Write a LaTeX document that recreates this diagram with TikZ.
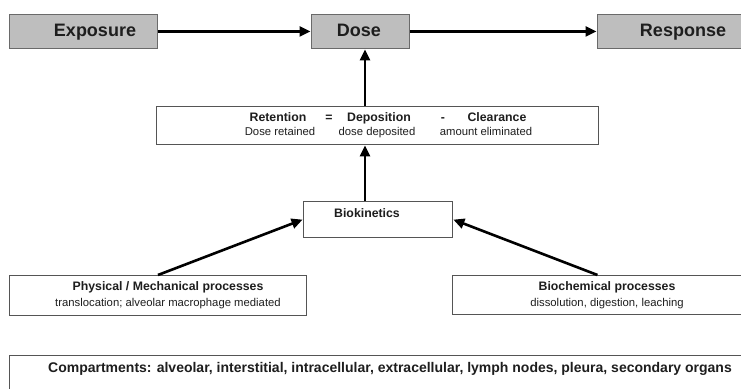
\documentclass[tikz,border=0pt]{standalone}
\usepackage{fontspec}
\setmainfont{Liberation Sans}
\usetikzlibrary{arrows.meta}
\definecolor{boxgray}{HTML}{BEBEBE}
\definecolor{edgegray}{HTML}{6A6A6A}
\definecolor{ink}{HTML}{1E1E1E}
\tikzset{
  graybox/.style={draw=edgegray, line width=0.9pt, fill=boxgray, inner sep=0pt, anchor=north west},
  whitebox/.style={draw=edgegray!80!black, line width=0.9pt, fill=white, inner sep=0pt, anchor=north west},
  lbl/.style={inner sep=0pt, anchor=base, text=ink, font=\bfseries\fontsize{18}{20}\selectfont},
  tl/.style={inner sep=0pt, anchor=base, text=ink, font=\bfseries\fontsize{12.3}{14}\selectfont},
  sl/.style={inner sep=0pt, anchor=base, text=ink, font=\fontsize{11.3}{13}\selectfont},
  arr/.style={line width=2.6pt, draw=black, -{Triangle[length=11pt,width=10pt]}, shorten >=0.5pt},
}
\begin{document}
\begin{tikzpicture}[x=1pt,y=-1pt]
\useasboundingbox (0,0) rectangle (741,388);
% top row
\node[graybox, minimum width=148pt, minimum height=34pt] (expo) at (9,14) {};
\node[graybox, minimum width=98pt, minimum height=34pt] (dose) at (311,14) {};
\node[graybox, minimum width=150pt, minimum height=34pt] (resp) at (597,14) {};
\node[lbl] (expot) at (95,36.5) {Exposure};
\node[lbl] (doset) at (359,36.5) {Dose};
\node[lbl] (respt) at (683,36.5) {Response};
% retention
\node[whitebox, minimum width=442pt, minimum height=38pt] (ret) at (156,106) {};
\node[tl] (r1) at (278,121.4) {Retention};
\node[tl] (r2) at (329,121.4) {=};
\node[tl] (r3) at (379,121.4) {Deposition};
\node[tl] (r4) at (443,121.4) {-};
\node[tl] (r5) at (497,121.4) {Clearance};
\node[sl] (s1) at (280,135) {Dose retained};
\node[sl] (s2) at (377,135) {dose deposited};
\node[sl] (s3) at (486,135) {amount eliminated};
% biokinetics
\node[whitebox, minimum width=149pt, minimum height=36pt] (bio) at (303,201) {};
\node[tl] (biot) at (367,217.4) {Biokinetics};
% processes
\node[whitebox, minimum width=297pt, minimum height=40pt] (phys) at (9,275) {};
\node[tl] (physt) at (168,290.4) {Physical / Mechanical processes};
\node[sl] (physs) at (168,306) {translocation; alveolar macrophage mediated};
\node[whitebox, minimum width=290pt, minimum height=39pt] (bioch) at (452,275) {};
\node[tl] (biocht) at (607,290.4) {Biochemical processes};
\node[sl] (biochs) at (607,306) {dissolution, digestion, leaching};
% compartments
\node[whitebox, minimum width=740pt, minimum height=40pt] (comp) at (9,355) {};
\node[inner sep=0pt, anchor=base, text=ink, font=\bfseries\fontsize{14}{16}\selectfont] (compt) at (390,372) {Compartments: alveolar, interstitial, intracellular, extracellular, lymph nodes, pleura, secondary organs};
% connectors
\coordinate (ax) at (365,0);
\draw[arr] (expo.east) -- (dose.west);
\draw[arr] (dose.east) -- (resp.west);
\draw[arr] (ret.north -| ax) -- (dose.south -| ax);
\draw[arr] (bio.north -| ax) -- (ret.south -| ax);
\draw[arr] (phys.north) -- (bio.west);
\draw[arr] (bioch.north) -- (bio.east);
\end{tikzpicture}
\end{document}
